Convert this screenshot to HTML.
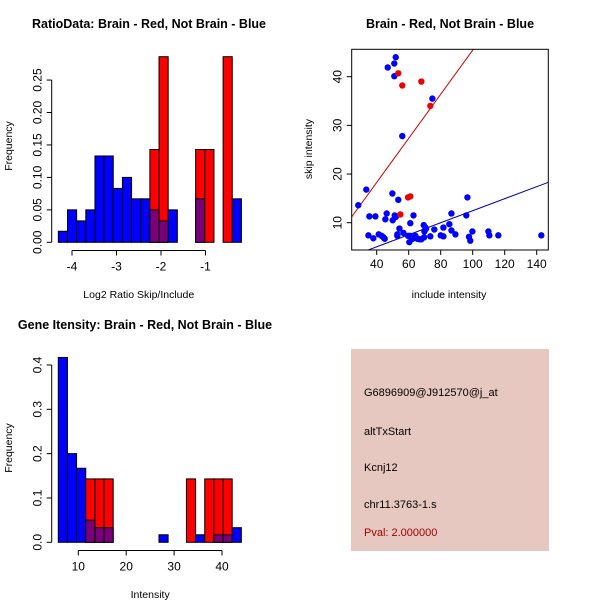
<!DOCTYPE html>
<html><head><meta charset="utf-8"><style>
body{margin:0;background:#fff;}
svg{display:block;font-family:"Liberation Sans",sans-serif;}
</style></head><body>
<svg id="c" width="600" height="600" viewBox="0 0 600 600" xmlns="http://www.w3.org/2000/svg">
<rect width="600" height="600" fill="#fff"/>
<text x="149" y="28" text-anchor="middle" font-size="12.5" font-weight="bold">RatioData: Brain - Red, Not Brain - Blue</text>
<text x="450" y="28" text-anchor="middle" font-size="12.5" font-weight="bold">Brain - Red, Not Brain - Blue</text>
<text x="145" y="329" text-anchor="middle" font-size="12.5" font-weight="bold">Gene Itensity: Brain - Red, Not Brain - Blue</text>
<g id="p1"></g>
<g id="p2"></g>
<g id="p3"></g>
<g>
<rect x="351" y="349" width="198" height="202" fill="#e6c8c0"/>
<text x="364" y="396" font-size="11">G6896909@J912570@j_at</text>
<text x="364" y="435" font-size="11">altTxStart</text>
<text x="364" y="471" font-size="11">Kcnj12</text>
<text x="364" y="508" font-size="11">chr11.3763-1.s</text>
<text x="364" y="536" font-size="11" fill="#a00000">Pval: 2.000000</text>
</g>
</svg>
<script>
// Ratio histogram data
const ratioBinStart = -4.307, ratioBinWidth = 0.2057;
const ratioBlue = [0.017,0.05,0.033,0.05,0.133,0.133,0.083,0.1,0.067,0.067,0.05,0.033,0.05,0,0,0.067,0,0,0,0.067];
const ratioRed  = [0,0,0,0,0,0,0,0,0,0,0.143,0.286,0,0,0,0.143,0.143,0,0.286,0];
const ratioXTicks = [-4,-3,-2,-1];
const ratioYTicks = [0,0.05,0.10,0.15,0.20,0.25];
const ratioYLabels = ["0.00","0.05","0.10","0.15","0.20","0.25"];
// Scatter data
const blueX = [28.5,33.5,35.4,39.2,34.8,37.9,41.25,43.1,44.2,45,45.4,46.25,46.9,51,51.9,51,49.8,50,51.25,52,53.5,52.9,52.9,54.2,56,56.7,59.6,60.4,61,60.8,63,62.5,63.5,64.2,65.4,66.7,68,69.4,69.8,70.4,69.6,70.8,73.5,74.8,76,80,81.7,81.7,85.4,86.7,86.7,89.2,96.7,96,97.7,98.5,99.8,109.8,110.4,116,142.9];
const blueY = [13.6,16.8,11.3,11.3,7.4,6.8,7.6,7.3,7.0,6.7,10.7,11.9,41.9,42.7,44.0,40.1,16.0,10.5,11.5,11.2,14.7,7.6,7.3,8.8,27.8,7.9,7.3,6.0,9.9,7.3,11.5,6.7,7.0,7.3,6.7,6.6,6.6,9.5,8.2,9.0,7.0,8.7,7.2,35.5,8.6,7.4,7.2,9.0,9.7,11.9,8.4,7.6,15.2,11.5,7.1,6.3,8.2,8.2,7.4,7.4,7.4];
const redX = [53.5,56,67.9,73.5,59.6,61,54.8];
const redY = [40.7,38.2,39.0,34.0,15.2,15.4,11.7];
const redFit = [0.15,0.453];
const blueFit = [0.1,0.1236];
const scXTicks = [40,60,80,100,120,140];
const scYTicks = [10,20,30,40];
// Intensity histogram data
const intBinStart = 5.82, intBinWidth = 1.911;
const intBlue = [0.417,0.2,0.167,0.05,0.033,0.033,0,0,0,0,0,0.017,0,0,0,0.017,0,0.017,0.017,0.033];
const intRed  = [0,0,0,0.143,0.143,0.143,0,0,0,0,0,0,0,0,0.143,0,0.143,0.143,0.143,0];
const intXTicks = [10,20,30,40];
const intYTicks = [0,0.1,0.2,0.3,0.4];
const intYLabels = ["0.0","0.1","0.2","0.3","0.4"];

const NS="http://www.w3.org/2000/svg";
function mk(parent,tag,attrs,txt){const e=document.createElementNS(NS,tag);for(const k in attrs)e.setAttribute(k,attrs[k]);if(txt!==undefined)e.textContent=txt;parent.appendChild(e);return e;}

function hist(g,start,width,blue,red,xs,ys,xTicks,yTicks,yLabels,xLabel,yTitleY,xLabelY,axisX,axisY){
  const n=blue.length;
  for(let i=0;i<n;i++){
    const x0=xs(start+i*width), x1=xs(start+(i+1)*width);
    const b=blue[i], r=red[i];
    if(r>0){
      const e=mk(g,'rect',{x:x0,y:ys(r),width:x1-x0,height:ys(0)-ys(r),fill:'#ff0000',stroke:'#000','stroke-width':1});
      
      
    }
    if(b>0){
      const e=mk(g,'rect',{x:x0,y:ys(b),width:x1-x0,height:ys(0)-ys(b),fill:r>0?'#7a007a':'#0000ff',stroke:'#000','stroke-width':1});
      
      
      if(r>0 && b>r){}
    }
  }
  // x axis
  const xa=mk(g,'g',{});
  
  
  mk(xa,'line',{x1:xs(xTicks[0]),x2:xs(xTicks[xTicks.length-1]),y1:axisY,y2:axisY,stroke:'#000'});
  xTicks.forEach(t=>{mk(xa,'line',{x1:xs(t),x2:xs(t),y1:axisY,y2:axisY+5,stroke:'#000'});
    const tl=mk(xa,'text',{x:xs(t),y:axisY+20,'text-anchor':'middle','font-size':12},String(t));
    
    });
  const ya=mk(g,'g',{});
  
  
  mk(ya,'line',{x1:axisX,x2:axisX,y1:ys(yTicks[0]),y2:ys(yTicks[yTicks.length-1]),stroke:'#000'});
  yTicks.forEach((t,i)=>{mk(ya,'line',{x1:axisX-5,x2:axisX,y1:ys(t),y2:ys(t),stroke:'#000'});
    const tl=mk(ya,'text',{x:axisX-10,y:ys(t),'text-anchor':'middle','font-size':12,transform:`rotate(-90 ${axisX-10} ${ys(t)})`},yLabels[i]);
    
    });
  const xt=mk(g,'text',{x:(xs(xTicks[0])+xs(xTicks[xTicks.length-1]))/2+ (xLabel==='Intensity'?0:0),y:xLabelY,'text-anchor':'middle','font-size':10.5},xLabel);
  
  
  const yt=mk(g,'text',{x:12,y:yTitleY,'text-anchor':'middle','font-size':10.5,transform:`rotate(-90 12 ${yTitleY})`},'Frequency');
  
  
}

// Panel 1
const p1=document.getElementById('p1');
hist(p1,ratioBinStart,ratioBinWidth,ratioBlue,ratioRed,
  v=>72+(v+4)*44.5, v=>242.3-v*649,
  ratioXTicks,ratioYTicks,ratioYLabels,'Log2 Ratio Skip/Include',146,298,51.7,250.5);
// Panel 3
const p3=document.getElementById('p3');
hist(p3,intBinStart,intBinWidth,intBlue,intRed,
  v=>78.3+(v-10)*4.79, v=>542.3-v*443.3,
  intXTicks,intYTicks,intYLabels,'Intensity',448,598,51.7,550.5);

// Panel 2 scatter
const p2=document.getElementById('p2');
const sx=v=>376.7+(v-40)*1.6, sy=v=>222.7-(v-10)*4.867;
const L=351.7,R=548.3,T=49.3,B=250;
mk(p2,'defs',{}).innerHTML='<clipPath id="clip2"><rect x="351.7" y="49.3" width="196.6" height="200.7"/></clipPath>';
const lines=mk(p2,'g',{'clip-path':'url(#clip2)'});
[[redFit,'#cc0000','red-fit-line'],[blueFit,'#0000aa','blue-fit-line']].forEach(([f,c,n])=>{
  const x0=20,x1=160;
  const e=mk(lines,'line',{x1:sx(x0),y1:sy(f[0]+f[1]*x0),x2:sx(x1),y2:sy(f[0]+f[1]*x1),stroke:c,'stroke-width':1});
  
  
});
blueX.forEach((x,i)=>{const e=mk(p2,'circle',{cx:sx(x),cy:sy(blueY[i]),r:3.2,fill:'#0000ff'});
  
  });
redX.forEach((x,i)=>{const e=mk(p2,'circle',{cx:sx(x),cy:sy(redY[i]),r:3.2,fill:'#ee0000'});
  
  });
const box=mk(p2,'rect',{x:L,y:T,width:R-L,height:B-T,fill:'none',stroke:'#000'});


scXTicks.forEach(t=>{mk(p2,'line',{x1:sx(t),x2:sx(t),y1:B,y2:B+5,stroke:'#000'});
  const tl=mk(p2,'text',{x:sx(t),y:B+18,'text-anchor':'middle','font-size':12},String(t));
  
  });
scYTicks.forEach(t=>{mk(p2,'line',{x1:L-5,x2:L,y1:sy(t),y2:sy(t),stroke:'#000'});
  const tl=mk(p2,'text',{x:L-10,y:sy(t),'text-anchor':'middle','font-size':12,transform:`rotate(-90 ${L-10} ${sy(t)})`},String(t));
  
  });
const sxt=mk(p2,'text',{x:449,y:298,'text-anchor':'middle','font-size':10.5},'include intensity');


const syt=mk(p2,'text',{x:312,y:149,'text-anchor':'middle','font-size':10.5,transform:'rotate(-90 312 149)'},'skip intensity');


</script>
</body></html>
